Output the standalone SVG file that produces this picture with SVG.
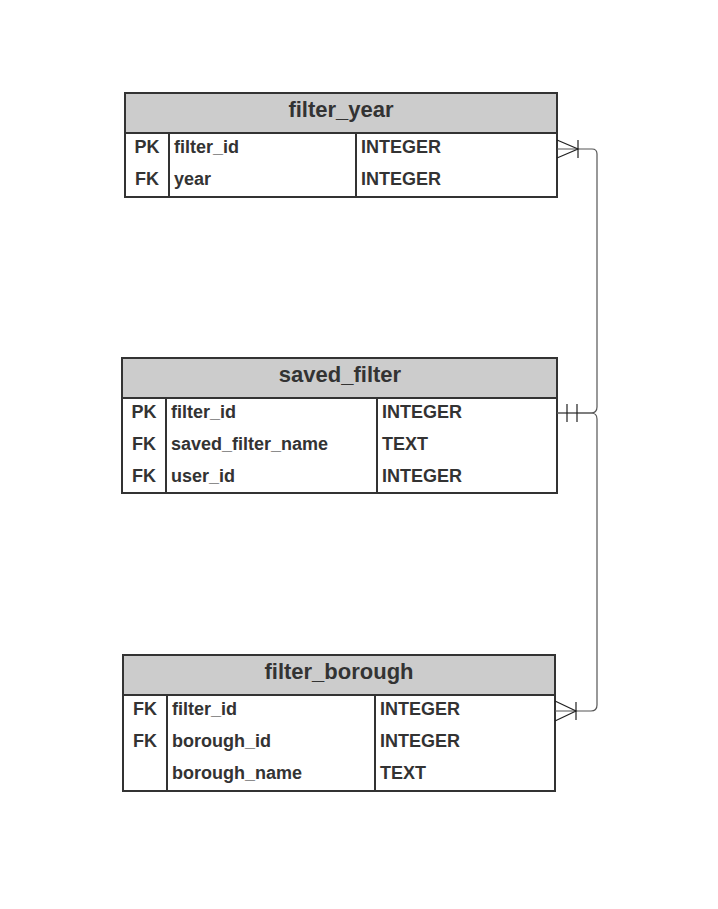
<svg xmlns="http://www.w3.org/2000/svg" width="718" height="909" viewBox="0 0 718 909">
<style>
.box{fill:#fff;stroke:#333;stroke-width:2}
.hdr{fill:#ccc;stroke:#333;stroke-width:2}
.div{stroke:#333;stroke-width:2}
.t{font-family:"Liberation Sans",Arial,sans-serif;font-weight:bold;fill:#333}
.h{font-size:22px;text-anchor:middle}
.r{font-size:18px}
.k{font-size:18px;text-anchor:middle}
.conn{fill:none;stroke:#555;stroke-width:1.2}
.mk{fill:none;stroke:#222;stroke-width:1.2}
</style>
<rect width="718" height="909" fill="#fff"/>
<g id="filter_year">
<rect class="box" x="125" y="93" width="432" height="104"/>
<rect class="hdr" x="125" y="93" width="432" height="40"/>
<line class="div" x1="169" y1="133" x2="169" y2="197"/>
<line class="div" x1="356" y1="133" x2="356" y2="197"/>
<text class="t h" x="341" y="117">filter_year</text>
<text class="t k" x="147" y="153">PK</text>
<text class="t r" x="174" y="153">filter_id</text>
<text class="t r" x="361" y="153">INTEGER</text>
<text class="t k" x="147" y="185">FK</text>
<text class="t r" x="174" y="185">year</text>
<text class="t r" x="361" y="185">INTEGER</text>
</g>
<g id="saved_filter">
<rect class="box" x="122" y="358" width="435" height="135"/>
<rect class="hdr" x="122" y="358" width="435" height="40"/>
<line class="div" x1="166" y1="398" x2="166" y2="493"/>
<line class="div" x1="377" y1="398" x2="377" y2="493"/>
<text class="t h" x="340" y="382">saved_filter</text>
<text class="t k" x="144" y="418">PK</text>
<text class="t r" x="171" y="418">filter_id</text>
<text class="t r" x="382" y="418">INTEGER</text>
<text class="t k" x="144" y="450">FK</text>
<text class="t r" x="171" y="450">saved_filter_name</text>
<text class="t r" x="382" y="450">TEXT</text>
<text class="t k" x="144" y="482">FK</text>
<text class="t r" x="171" y="482">user_id</text>
<text class="t r" x="382" y="482">INTEGER</text>
</g>
<g id="filter_borough">
<rect class="box" x="123" y="655" width="432" height="136"/>
<rect class="hdr" x="123" y="655" width="432" height="40"/>
<line class="div" x1="167" y1="695" x2="167" y2="791"/>
<line class="div" x1="375" y1="695" x2="375" y2="791"/>
<text class="t h" x="339" y="679">filter_borough</text>
<text class="t k" x="145" y="715">FK</text>
<text class="t r" x="172" y="715">filter_id</text>
<text class="t r" x="380" y="715">INTEGER</text>
<text class="t k" x="145" y="747">FK</text>
<text class="t r" x="172" y="747">borough_id</text>
<text class="t r" x="380" y="747">INTEGER</text>
<text class="t r" x="172" y="779">borough_name</text>
<text class="t r" x="380" y="779">TEXT</text>
</g>
<g id="connectors">
<path class="conn" d="M557,149 H592 Q597,149 597,154 V407 Q597,413 591,413 H557"/>
<path class="conn" d="M557,413 H591 Q597,413 597,419 V705 Q597,711 591,711 H555"/>
<path class="mk" d="M557,140 L578,149 L557,158 M578,140 V158"/>
<path class="mk" d="M567,404 V422 M577,404 V422"/>
<path class="mk" d="M555,701 L576,711 L555,721 M576,702 V720"/>
</g>
</svg>
